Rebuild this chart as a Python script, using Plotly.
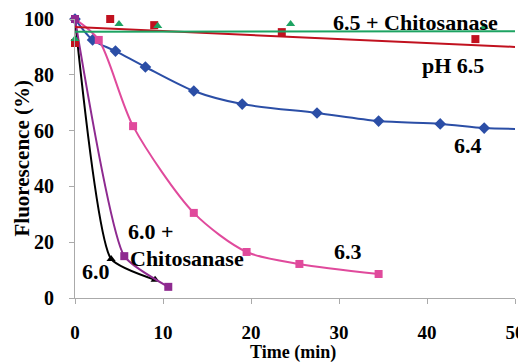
import plotly.graph_objects as go

# pH 6.4 (blue diamonds)
x64 = [0, 2.0, 4.6, 8.0, 13.5, 19.0, 27.5, 34.5, 41.5, 46.5]
y64 = [100, 92.5, 88.5, 82.8, 74.2, 69.5, 66.3, 63.4, 62.4, 60.9]
x64_line = [0, 2.0, 4.6, 8.0, 13.5, 19.0, 27.5, 34.5, 41.5, 46.5, 50.3]
y64_line = [100, 92.5, 88.5, 82.8, 74.2, 69.5, 66.3, 63.4, 62.4, 60.9, 60.6]

# pH 6.3 (pink squares)
x63 = [0, 2.7, 6.6, 13.5, 19.5, 25.5, 34.5]
y63 = [100, 92.5, 61.6, 30.5, 16.5, 12.2, 8.6]

# pH 6.0 (black triangles)
x60 = [0, 4.1, 9.1]
y60 = [100, 14, 6.5]

# pH 6.0 + Chitosanase (purple squares)
x60c = [0, 5.6, 10.6]
y60c = [100, 15, 4]

# pH 6.5 (red squares) and its trend line
x65 = [0, 4.0, 9.0, 23.5, 45.5]
y65 = [91.4, 100, 97.8, 95.3, 92.8]
x65_trend = [0, 50]
y65_trend = [97.1, 90.0]

# pH 6.5 + Chitosanase (green triangles) and its trend line
x65c = [0, 5.0, 9.4, 24.5, 46.5]
y65c = [92.8, 98.2, 97.5, 98.2, 97.1]
x65c_trend = [0, 50]
y65c_trend = [95.4, 95.6]

xticks = [0, 10, 20, 30, 40, 50]
yticks = [0, 20, 40, 60, 80, 100]

BLUE = "#2B4EA6"
PINK = "#E04A9C"
BLACK = "#000000"
PURPLE = "#8E2A90"
RED = "#C1111F"
GREEN = "#1DA362"

FAM = "Liberation Serif, Times New Roman, serif"

fig = go.Figure()

def add(**kw):
    fig.add_trace(go.Scatter(cliponaxis=False, **kw))

add(x=x64_line, y=y64_line, mode="lines",
    line=dict(color=BLUE, width=2, shape="spline", smoothing=0.8))
add(x=x64, y=y64, mode="markers", marker=dict(symbol="diamond", size=9, color=BLUE))

add(x=x63, y=y63, mode="lines+markers",
    line=dict(color=PINK, width=2, shape="spline", smoothing=0.8),
    marker=dict(symbol="square", size=8, color=PINK))

add(x=x60, y=y60, mode="lines+markers",
    line=dict(color=BLACK, width=2, shape="spline", smoothing=0.5),
    marker=dict(symbol="triangle-up", size=8, color=BLACK))

add(x=x60c, y=y60c, mode="lines+markers",
    line=dict(color=PURPLE, width=2, shape="spline", smoothing=0.5),
    marker=dict(symbol="square", size=8, color=PURPLE))

add(x=x65_trend, y=y65_trend, mode="lines", line=dict(color=RED, width=2))
add(x=x65, y=y65, mode="markers", marker=dict(symbol="square", size=8, color=RED))

add(x=x65c_trend, y=y65c_trend, mode="lines", line=dict(color=GREEN, width=2))
add(x=x65c, y=y65c, mode="markers", marker=dict(symbol="triangle-up", size=8, color=GREEN))

font_b = dict(family=FAM, size=22, color="black")

ann = [
    ("<b>6.5 + Chitosanase</b>", 38.7, 98.9),
    ("<b>pH 6.5</b>", 42.9, 83.2),
    ("<b>6.4</b>", 44.7, 54.5),
    ("<b>6.3</b>", 31.0, 16.5),
    ("<b>6.0 +</b>", 8.6, 24.0),
    ("<b>Chitosanase</b>", 12.7, 14.0),
    ("<b>6.0</b>", 2.4, 9.5),
]
for t, x, y in ann:
    fig.add_annotation(x=x, y=y, text=t, showarrow=False, font=font_b,
                       xanchor="center", yanchor="middle")

# axis titles
fig.add_annotation(text="<b>Time (min)</b>", xref="paper", yref="paper",
                   x=0.495, y=-0.195, xanchor="center", yanchor="middle",
                   showarrow=False, font=dict(family=FAM, size=18, color="black"))
fig.add_annotation(text="<b>Fluorescence (%)</b>", xref="paper", yref="paper",
                   x=-0.1205, y=0.5, xanchor="center", yanchor="middle", textangle=-90,
                   showarrow=False, font=dict(family=FAM, size=21, color="black"))

# page body has an 8px default margin: size the figure to fit the 526x362 window
fig.update_layout(
    width=518, height=354,
    margin=dict(l=67, r=11, t=11, b=64),
    paper_bgcolor="white", plot_bgcolor="white",
    showlegend=False,
    font=dict(family=FAM, size=20, color="black"),
)
fig.update_xaxes(range=[0, 50], tickvals=xticks, ticktext=[f"<b>{v}</b>" for v in xticks],
                 automargin=False, ticklabelstandoff=12,
                 showgrid=False, zeroline=False, showline=True, linecolor="#AAAAAA",
                 linewidth=1, ticks="outside", ticklen=5, tickcolor="#AAAAAA",
                 tickfont=dict(family=FAM, size=19))
fig.update_yaxes(range=[0, 100], tickvals=yticks,
                 ticktext=[f"<b>{v}</b>" for v in yticks],
                 automargin=False, ticklabelstandoff=11,
                 showgrid=False, zeroline=False, showline=True, linecolor="#AAAAAA",
                 linewidth=1, ticks="outside", ticklen=5, tickcolor="#AAAAAA",
                 tickfont=dict(family=FAM, size=20))

fig.write_html("out.html")
